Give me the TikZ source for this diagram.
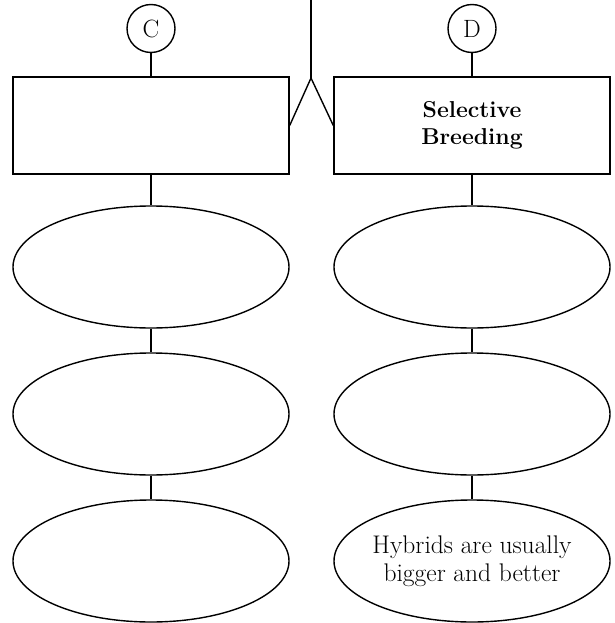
\documentclass[tikz,border=0pt]{standalone}
\usepackage{fontspec}
\usepackage{tikz}
\usetikzlibrary{arrows.meta}
\usetikzlibrary{positioning,shapes.geometric}

\begin{document}
\begin{tikzpicture}[x=1pt,y=-1pt,line width=1.4pt]
	\useasboundingbox (0,0) rectangle (614,623);

	\begin{scope}[every node/.style={circle,draw,minimum size=48pt,inner sep=0pt,font=\fontsize{25}{28}\selectfont}]
		\node (kreisC) at (151,28.5) {C};
		\node (kreisD) at (472,28.5) {D};
	\end{scope}

	\begin{scope}[every node/.style={rectangle,draw,minimum height=97pt,minimum width=276pt,inner sep=0pt,align=center,font=\fontsize{23}{27}\selectfont\bfseries}]
		\node (kastenC) at (151,125.5) {};
		\node (kastenD) at (472,125.5) {Selective\\Breeding};
	\end{scope}

	\begin{scope}[every node/.style={ellipse,draw,minimum height=122pt,minimum width=276pt,inner ysep=0pt,inner xsep=-10pt,align=center,font=\fontsize{25.5}{28}\selectfont}]
		\node (einsC) at (151,267) {};
		\node (zweiC) at (151,414) {};
		\node (dreiC) at (151,561) {};
		\node (einsD) at (472,267) {};
		\node (zweiD) at (472,414) {};
		\node (dreiD) at (472,561) {Hybrids are usually\\bigger and better};
	\end{scope}

	\coordinate (oben) at (311,0);
	\coordinate (spitze) at (311,78);

	\begin{scope}[line join=miter]
		\path (kreisC) edge (kastenC);
		\path (kastenC) edge (einsC);
		\path (einsC) edge (zweiC);
		\path (zweiC) edge (dreiC);
		\path (kreisD) edge (kastenD);
		\path (kastenD) edge (einsD);
		\path (einsD) edge (zweiD);
		\path (zweiD) edge (dreiD);
		\draw (oben) -- (spitze);
		\draw (kastenC.east) -- (spitze) -- (kastenD.west);
	\end{scope}
\end{tikzpicture}
\end{document}
